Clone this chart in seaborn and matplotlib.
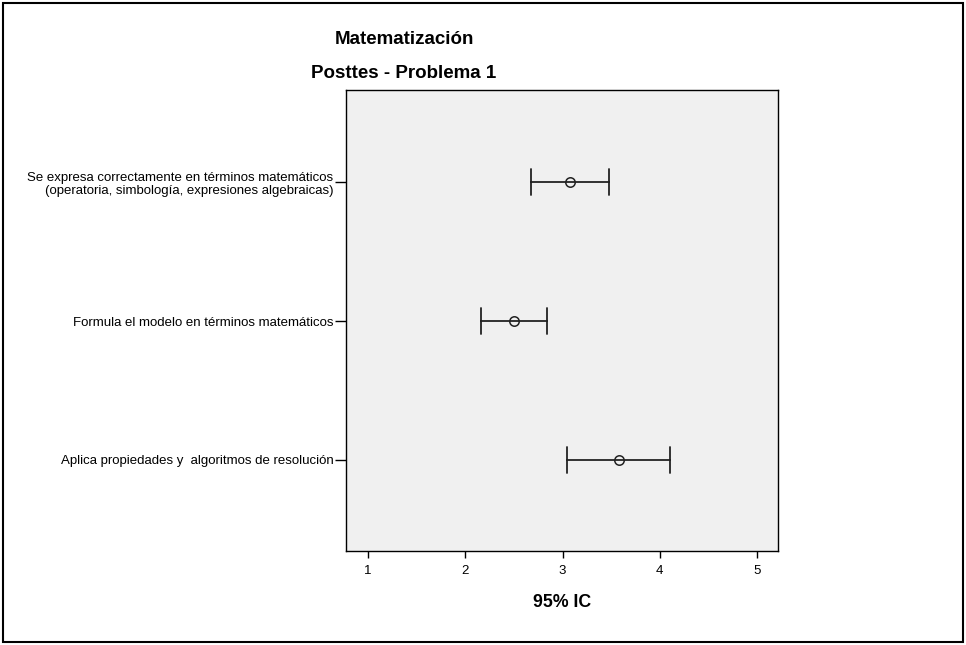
import matplotlib
matplotlib.use("Agg")
import matplotlib.pyplot as plt
import seaborn as sns
import pandas as pd
from matplotlib.patches import Rectangle

categories = [
    "Se expresa correctamente en términos matemáticos\n(operatoria, simbología, expresiones algebraicas)",
    "Formula el modelo en términos matemáticos",
    "Aplica propiedades y  algoritmos de resolución",
]
means = [3.08, 2.50, 3.58]
ci_low = [2.68, 2.16, 3.05]
ci_high = [3.48, 2.84, 4.11]
xticks = [1, 2, 3, 4, 5]

rows = []
for c, lo, m, hi in zip(categories, ci_low, means, ci_high):
    for v in (lo, m, hi):
        rows.append({"cat": c, "val": v})
df = pd.DataFrame(rows)

sns.set_style("white")
plt.rcParams["font.family"] = ["Liberation Sans", "DejaVu Sans"]
plt.rcParams["text.color"] = "black"
plt.rcParams["axes.labelcolor"] = "black"
plt.rcParams["xtick.color"] = "black"
plt.rcParams["ytick.color"] = "black"

fig = plt.figure(figsize=(9.66, 6.45), dpi=100)
ax = fig.add_axes([0.3582, 0.1457, 0.4472, 0.7147])
ax.set_facecolor("#f0f0f0")

sns.pointplot(
    data=df, x="val", y="cat", order=categories, orient="h",
    estimator="median", errorbar=lambda x: (min(x), max(x)),
    linestyle="none", marker="o", markersize=6.8, markerfacecolor="none",
    markeredgecolor="#222222", markeredgewidth=1.1,
    color="#222222", capsize=0.19, err_kws={"linewidth": 1.3}, ax=ax,
)

ax.set_xlim(0.774, 5.216)
ax.set_ylim(2.655, -0.662)
ax.set_xticks(xticks)
ax.set_xticklabels([str(t) for t in xticks], fontsize=9.5)
ax.tick_params(axis="x", bottom=True, direction="out", length=5, width=1,
               colors="black", pad=5)
ax.tick_params(axis="y", left=True, direction="out", length=8, width=1,
               colors="black", pad=1)
for lbl in ax.get_yticklabels():
    lbl.set_fontsize(9.5)
    lbl.set_multialignment("right")
    lbl.set_color("black")
ax.set_ylabel("")
ax.set_xlabel("95% IC", fontsize=12.8, fontweight="bold", labelpad=12,
              color="black")
for s in ax.spines.values():
    s.set_visible(True)
    s.set_color("black")
    s.set_linewidth(1)

fig.text(404 / 966, 1 - 40 / 645, "Matematización", ha="center", va="center",
         fontsize=13.5, fontweight="bold", color="black")
fig.text(404 / 966, 1 - 74 / 645, "Posttes - Problema 1", ha="center", va="center",
         fontsize=13.5, fontweight="bold", color="black")

fig.patches.append(Rectangle((3 / 966, 3 / 645), 960 / 966, 639 / 645,
                             transform=fig.transFigure, fill=False,
                             edgecolor="black", linewidth=1.5))

fig.savefig("out.png", dpi=100)
